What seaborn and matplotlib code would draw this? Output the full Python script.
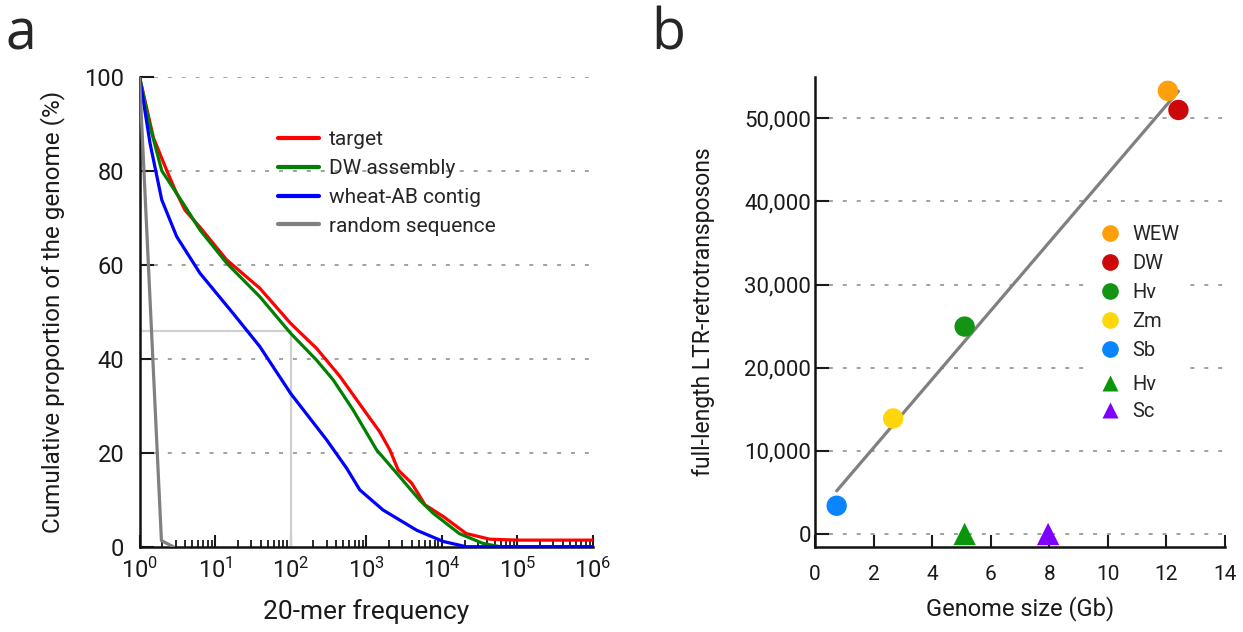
import numpy as np
import pandas as pd
import matplotlib
matplotlib.use("Agg")
import matplotlib.pyplot as plt
from matplotlib.lines import Line2D
from matplotlib.ticker import FixedLocator, FuncFormatter, NullFormatter
import seaborn as sns

sns.set_style("ticks")
plt.rcParams["font.family"] = ["Roboto", "DejaVu Sans"]
plt.rcParams["mathtext.fontset"] = "custom"
plt.rcParams["mathtext.rm"] = "Roboto"
plt.rcParams["mathtext.default"] = "regular"
plt.rcParams["axes.linewidth"] = 1.8
plt.rcParams["axes.edgecolor"] = "#111111"

# ---- panel a: cumulative k-mer frequency curves ----
target_freq = [1, 1.53, 2.3, 2.96, 4.0, 6.3, 14.3, 39, 100, 220, 450, 1000, 1500,
               2050, 2650, 4000, 6000, 10500, 21000, 43000, 100000, 1e6]
target_pct = [100, 87, 80, 75.9, 71.6, 68, 61, 55, 47.5, 42.2, 36.2, 28.4, 24.5,
              20.6, 16.3, 13.5, 8.9, 6.4, 2.8, 1.6, 1.4, 1.4]

dw_freq = [1, 1.38, 1.97, 3.8, 6.3, 14.3, 39, 100, 220, 365, 670, 1370, 2770,
           5100, 7700, 17000, 35000, 59000, 1e6]
dw_pct = [100, 89.4, 80, 73, 67.4, 60.3, 53.2, 45.4, 39.7, 35.5, 29.1, 20.6, 14.9,
          9.9, 7.1, 2.8, 0.7, 0, 0]

ab_freq = [1, 1.38, 1.97, 3.1, 6.3, 17.4, 39, 100, 300, 550, 820, 1670, 4650,
           10500, 21000, 1e6]
ab_pct = [100, 85.8, 73.8, 66, 58.2, 49.6, 42.6, 32.6, 22.7, 16.7, 12.1, 7.8, 3.5,
          1.1, 0, 0]

rand_freq = [1, 1.95, 2.8]
rand_pct = [100, 1.3, 0]

series_names = ["target", "DW assembly", "wheat-AB contig", "random sequence"]
series_colors = ["#ff0000", "#008000", "#0000ff", "#808080"]

# median marker: 45.8 % of the genome at frequency 100
median_freq = 100
median_pct = 45.8

# ---- panel b: LTR-retrotransposons vs genome size ----
species = ["WEW", "DW", "Hv", "Zm", "Sb"]
genome_gb = [12.05, 12.41, 5.11, 2.67, 0.74]
ltr_count = [53300, 51000, 24950, 13900, 3400]
species_colors = ["#ff9f0a", "#cc0808", "#149414", "#ffd60a", "#0a84ff"]

tri_species = ["Hv", "Sc"]
tri_genome_gb = [5.11, 7.96]
tri_ltr_count = [0, 0]
tri_colors = ["#0a960a", "#8000ff"]

fig = plt.figure(figsize=(12.43, 6.32), dpi=100)
W, H = 1243, 632


def fig_rect(left, top, right, bottom):
    return [left / W, 1 - bottom / H, (right - left) / W, (bottom - top) / H]


grid_kw = dict(color="#9a9a9a", linewidth=1.3, linestyle=(0, (2.2, 5.5)))

# ---------------- panel a ----------------
ax1 = fig.add_axes(fig_rect(139.5, 76.7, 593, 546.7))
long_df = pd.concat([
    pd.DataFrame({"freq": f, "pct": p, "series": n})
    for f, p, n in zip([target_freq, dw_freq, ab_freq, rand_freq],
                       [target_pct, dw_pct, ab_pct, rand_pct], series_names)
])
# reference lines for the median
ax1.plot([1, median_freq], [median_pct, median_pct], color="#cfcfcf", lw=1.6, zorder=1)
ax1.plot([median_freq, median_freq], [0, median_pct], color="#cfcfcf", lw=1.6, zorder=1)

sns.lineplot(data=long_df, x="freq", y="pct", hue="series", hue_order=series_names,
             palette=dict(zip(series_names, series_colors)), estimator=None,
             sort=False, linewidth=2.3, ax=ax1, zorder=3)
ax1.set_xscale("log")
ax1.set_xlim(1, 1e6)
ax1.set_ylim(0, 100)
ax1.set_yticks([0, 20, 40, 60, 80, 100])
for yv in [20, 40, 60, 80, 100]:
    ax1.axhline(yv, **grid_kw, zorder=0)
ax1.tick_params(axis="y", left=True, direction="in", length=10, width=1.5, labelsize=17,
                pad=11, colors="#1a1a1a")
sns.despine(ax=ax1)
ax1.set_xlabel("20-mer frequency", fontsize=19, color="#1a1a1a")
ax1.set_ylabel("Cumulative proportion of the genome (%)", fontsize=17.5, color="#1a1a1a")
ax1.xaxis.set_label_coords(0.5, -0.112)
ax1.yaxis.set_label_coords(-0.165, 0.5)
leg_handles = [Line2D([], [], color=c, lw=3) for c in series_colors]
ax1.legend(leg_handles, series_names, loc="upper left", frameon=False,
           bbox_to_anchor=(272 / W, 1 - 124 / H), bbox_transform=fig.transFigure,
           fontsize=15, handlelength=1.95, handletextpad=0.5, labelspacing=0.47,
           borderpad=0.3, borderaxespad=0)

# ---------------- panel b ----------------
ax2 = fig.add_axes(fig_rect(815, 77.3, 1225, 547))
circ_df = pd.DataFrame({"size": genome_gb, "ltr": ltr_count, "sp": species})
tri_df = pd.DataFrame({"size": tri_genome_gb, "ltr": tri_ltr_count,
                       "sp": [s + " " for s in tri_species]})
for yv in range(0, 50001, 10000):
    ax2.axhline(yv, **grid_kw, zorder=0)
sns.regplot(data=circ_df, x="size", y="ltr", scatter=False, ci=None, truncate=True,
            line_kws=dict(color="#808080", lw=2.3, zorder=2), ax=ax2)
sns.scatterplot(data=circ_df, x="size", y="ltr", hue="sp",
                palette=dict(zip(species, species_colors)), s=215, marker="o",
                edgecolor="none", legend=False, ax=ax2, zorder=4)
sns.scatterplot(data=tri_df, x="size", y="ltr", hue="sp",
                palette=dict(zip(tri_df["sp"], tri_colors)), s=260, marker="^",
                edgecolor="none", legend=False, ax=ax2, zorder=4, clip_on=False)
ax2.set_xlim(0, 14)
ax2.set_ylim(-1560, 54930)
ax2.set_xticks(range(0, 15, 2))
ax2.set_yticks(range(0, 50001, 10000))
ax2.yaxis.set_major_formatter(FuncFormatter(lambda v, p: f"{int(v):,}"))
ax2.tick_params(axis="y", left=True, direction="in", length=10, width=1.5, labelsize=16,
                pad=3, colors="#1a1a1a")
ax2.tick_params(axis="x", bottom=True, direction="in", length=9, width=1.5, labelsize=15,
                pad=13, colors="#1a1a1a")
sns.despine(ax=ax2)
ax2.set_xlabel("Genome size (Gb)", fontsize=17, color="#1a1a1a")
ax2.set_ylabel("full-length LTR-retrotransposons", fontsize=16.5, color="#1a1a1a")
ax2.xaxis.set_label_coords(0.5, -0.105)
ax2.yaxis.set_label_coords(-0.245, 0.5)

circ_handles = [Line2D([], [], ls="", marker="o", markersize=12, color=c, mec="none")
                for c in species_colors]
leg_c = ax2.legend(circ_handles, species, loc="upper left", frameon=True,
                   bbox_to_anchor=(1090 / W, 1 - 215 / H), bbox_transform=fig.transFigure,
                   fontsize=14.5, handlelength=1.0, handletextpad=0.6, labelspacing=0.5,
                   borderpad=0.5, borderaxespad=0, framealpha=1, facecolor="white",
                   edgecolor="none", fancybox=False)
ax2.add_artist(leg_c)
tri_handles = [Line2D([], [], ls="", marker="^", markersize=12, color=c, mec="none")
               for c in tri_colors]
ax2.legend(tri_handles, tri_species, loc="upper left", frameon=True,
           bbox_to_anchor=(1090 / W, 1 - 365 / H), bbox_transform=fig.transFigure,
           fontsize=14.5, handlelength=1.0, handletextpad=0.6, labelspacing=0.4,
           borderpad=0.5, borderaxespad=0, framealpha=1, facecolor="white",
           edgecolor="none", fancybox=False)

# panel letters
fig.text(6 / W, 1 - 50 / H, "a", fontsize=40, family=["Open Sans", "DejaVu Sans"],
         va="baseline", ha="left")
fig.text(651 / W, 1 - 50 / H, "b", fontsize=40, family=["Open Sans", "DejaVu Sans"],
         va="baseline", ha="left")

# log-scale x ticks of panel a: decades plus 2..9 minor ticks, pointing inward
decades = 10.0 ** np.arange(0, 7)
minor_pos = [d * k for d in decades[:-1] for k in range(2, 10)]
ax1.xaxis.reset_ticks()
ax1.xaxis.set_major_locator(FixedLocator(decades))
ax1.xaxis.set_minor_locator(FixedLocator(minor_pos))
ax1.xaxis.set_major_formatter(FuncFormatter(lambda v, p: r"$10^{%d}$" % round(np.log10(v))))
ax1.xaxis.set_minor_formatter(NullFormatter())
ax1.tick_params(axis="x", which="major", bottom=True, direction="in", length=9, width=1.5,
                labelsize=17, pad=8, colors="#1a1a1a")
ax1.tick_params(axis="x", which="minor", bottom=True, direction="in", length=5, width=1.3,
                colors="#1a1a1a")

fig.savefig("out.png", dpi=100, facecolor="white")
